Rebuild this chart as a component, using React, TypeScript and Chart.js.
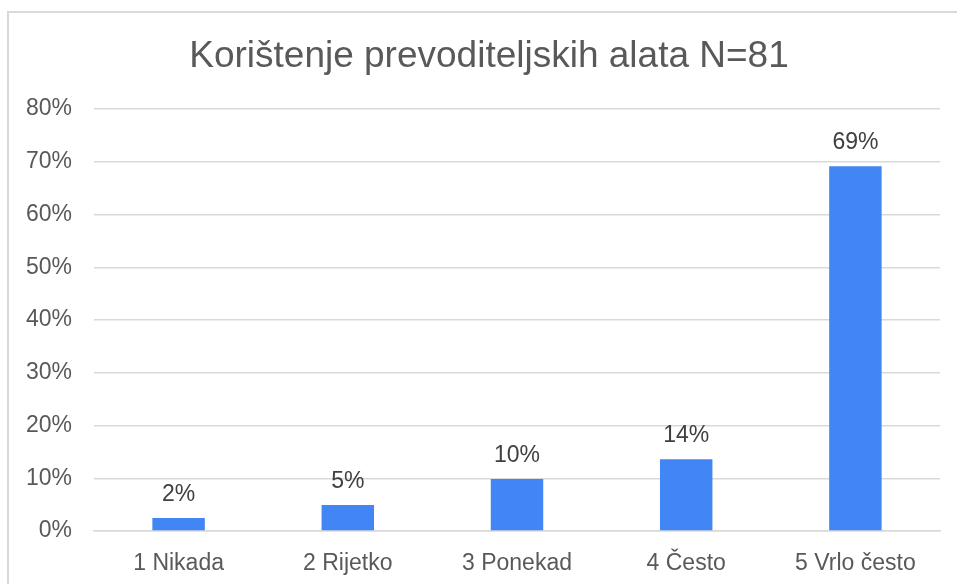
import React, { useEffect, useRef } from "react";
import { Chart, registerables } from "chart.js";

Chart.register(...registerables);

const categories = ["1 Nikada", "2 Rijetko", "3 Ponekad", "4 Često", "5 Vrlo često"];
const counts = [2, 4, 8, 11, 56];
const total = 81;
const percentValues = counts.map((c) => (c / total) * 100);
const yTicksMax = 80;
const yTicksStep = 10;
const titleText = "Korištenje prevoditeljskih alata N=81";

const FONT = "'Liberation Sans', Arial, sans-serif";

const dataLabelPlugin = {
  id: "dataLabels",
  afterDatasetsDraw(chart: any) {
    const ctx = chart.ctx;
    const meta = chart.getDatasetMeta(0);
    const ds = chart.data.datasets[0];
    ctx.save();
    ctx.font = `23px ${FONT}`;
    ctx.fillStyle = "#404040";
    ctx.textAlign = "center";
    ctx.textBaseline = "alphabetic";
    meta.data.forEach((bar: any, i: number) => {
      const v = ds.data[i] as number;
      ctx.fillText(`${Math.round(v)}%`, bar.x, bar.y - 17);
    });
    ctx.restore();
  },
};

const titlePlugin = {
  id: "customTitle",
  afterDraw(chart: any) {
    const ctx = chart.ctx;
    ctx.save();
    ctx.font = `37px ${FONT}`;
    ctx.fillStyle = "#595959";
    ctx.textAlign = "center";
    ctx.textBaseline = "alphabetic";
    ctx.fillText(titleText, 489, 67);
    ctx.restore();
  },
};

export default function App() {
  const ref = useRef<HTMLCanvasElement | null>(null);
  useEffect(() => {
    if (!ref.current) return;
    const chart = new Chart(ref.current, {
      type: "bar",
      data: {
        labels: categories,
        datasets: [
          {
            data: percentValues,
            backgroundColor: "#4285F4",
            borderWidth: 0,
            categoryPercentage: 1,
            barPercentage: 0.31,
          },
        ],
      },
      options: {
        responsive: false,
        animation: false,
        layout: { padding: { left: 8, right: 17, top: 109, bottom: 0 } },
        plugins: {
          legend: { display: false },
          tooltip: { enabled: false },
          title: { display: false },
        },
        scales: {
          x: {
            grid: { display: false },
            border: { display: true, color: "#d9d9d9", width: 1.5 },
            ticks: {
              color: "#595959",
              font: { family: FONT, size: 23 },
              padding: 11,
              maxRotation: 0,
            },
            afterFit(scale: any) {
              scale.height = 53;
            },
          },
          y: {
            min: 0,
            max: yTicksMax,
            grid: { color: "#d9d9d9", lineWidth: 1.5, drawTicks: false },
            border: { display: false },
            ticks: {
              stepSize: yTicksStep,
              color: "#595959",
              font: { family: FONT, size: 23 },
              padding: 22,
              callback: (v: any) => `${v}%`,
            },
            afterFit(scale: any) {
              scale.width = 86;
            },
          },
        },
      },
      plugins: [dataLabelPlugin, titlePlugin],
    });
    return () => chart.destroy();
  }, []);

  return (
    <div
      style={{
        position: "fixed",
        left: 0,
        top: 0,
        width: 957,
        height: 584,
        overflow: "hidden",
        background: "#fff",
      }}
    >
      <div
        style={{
          position: "absolute",
          left: 7,
          top: 11,
          width: 1100,
          height: 1100,
          border: "2px solid #d9d9d9",
          boxSizing: "border-box",
        }}
      />
      <canvas
        ref={ref}
        width={957}
        height={584}
        style={{ position: "absolute", left: 0, top: 0 }}
      />
    </div>
  );
}
